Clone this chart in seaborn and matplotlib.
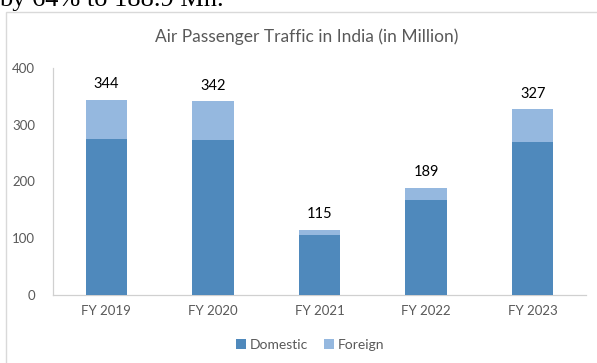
import matplotlib
matplotlib.use("Agg")
import matplotlib.pyplot as plt
from matplotlib.patches import Patch, Rectangle
import seaborn as sns
import pandas as pd

# Air passenger traffic in India, million passengers
years = ["FY 2019", "FY 2020", "FY 2021", "FY 2022", "FY 2023"]
domestic = [275, 274, 105, 167, 270]
foreign = [69, 68, 10, 22, 57]
y_ticks = [0, 100, 200, 300, 400]

DOM_COLOR = "#4f89bc"
FOR_COLOR = "#95b8df"
GREY_TEXT = "#595959"

sns.set_theme(style="white")
plt.rcParams["font.family"] = ["Lato", "DejaVu Sans"]

totals = [d + f for d, f in zip(domestic, foreign)]
df = pd.DataFrame({"year": years, "Domestic": domestic,
                   "Foreign": foreign, "Total": totals})

fig = plt.figure(figsize=(5.97, 3.63), dpi=100)
W, H = 597, 363
ax = fig.add_axes([53 / W, 1 - 295 / H, (586 - 53) / W, (295 - 68) / H])

# stacked columns: full height in the foreign colour, domestic part over it
sns.barplot(data=df, x="year", y="Total", color=FOR_COLOR, width=0.39,
            saturation=1, linewidth=0, ax=ax, zorder=2)
sns.barplot(data=df, x="year", y="Domestic", color=DOM_COLOR, width=0.39,
            saturation=1, linewidth=0, ax=ax, zorder=3)

ax.set_xlim(-0.5, len(years) - 0.5)
ax.set_ylim(0, 400)
ax.set_yticks(y_ticks)
ax.set_yticklabels([str(t) for t in y_ticks])
ax.set_xlabel("")
ax.set_ylabel("")
ax.tick_params(axis="both", length=0, labelsize=9.5, labelcolor=GREY_TEXT)
ax.tick_params(axis="y", pad=13)
ax.tick_params(axis="x", pad=7)

for side in ["top", "right"]:
    ax.spines[side].set_visible(False)
for side in ["left", "bottom"]:
    ax.spines[side].set_color("#d0d0d0")
    ax.spines[side].set_linewidth(0.9)

# total labels above each column
for i, t in enumerate(totals):
    ax.annotate(str(t), (i, t), xytext=(0, 6), textcoords="offset points",
                ha="center", va="bottom", fontsize=10.5, color="black")

fig.text(307 / W, 1 - 37 / H, "Air Passenger Traffic in India (in Million)",
         ha="center", va="center", fontsize=12.5, color=GREY_TEXT)

handles = [Patch(facecolor=DOM_COLOR, edgecolor="none", label="Domestic"),
           Patch(facecolor=FOR_COLOR, edgecolor="none", label="Foreign")]
fig.legend(handles=handles, loc="center", bbox_to_anchor=(310 / W, 1 - 345 / H),
           ncol=2, frameon=False, fontsize=10, handlelength=0.7,
           handleheight=0.7, handletextpad=0.25, columnspacing=1.2,
           labelcolor=GREY_TEXT)

# chart frame
fig.patches.append(Rectangle((6 / W, -0.1), 1.2, 1 - 12 / H + 0.1,
                             transform=fig.transFigure, fill=False,
                             edgecolor="#d9d9d9", linewidth=1.0))

# tail of the preceding sentence in the document
fig.text(-1 / W, 1 - 6 / H, "by 64% to 188.9 Mn.", ha="left", va="baseline",
         fontsize=19, color="black",
         family=["Liberation Serif", "DejaVu Serif"])

fig.savefig("out.png", dpi=100)
